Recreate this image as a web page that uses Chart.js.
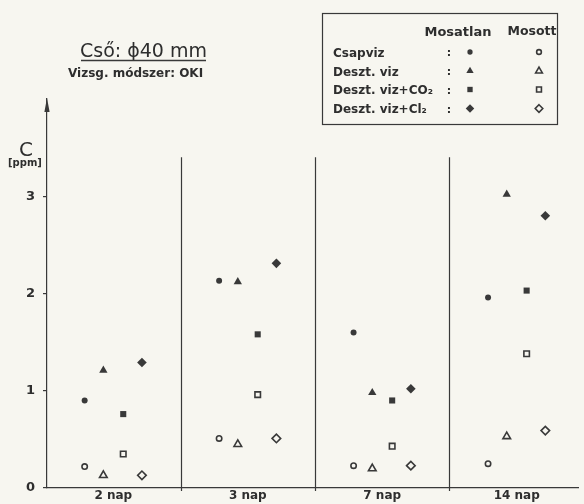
<!DOCTYPE html>
<html>
<head>
<meta charset="utf-8">
<script src="https://cdn.jsdelivr.net/npm/chart.js@4/dist/chart.umd.min.js"></script>
<style>
  html, body { margin: 0; padding: 0; background: #f7f6f0; }
  #wrap { width: 584px; height: 504px; }
</style>
</head>
<body>
<div id="wrap"><canvas id="c" width="584" height="504"></canvas></div>
<script>
// Sampling periods (x categories)
const periods = ['2 nap', '3 nap', '7 nap', '14 nap'];
const yTicks = [0, 1, 2, 3];

// Concentration C [ppm], unwashed samples ("Mosatlan")
const csapvizMosatlan   = [0.90, 2.13, 1.60, 1.96];
const desztMosatlan     = [1.21, 2.12, 0.98, 3.02];
const desztCO2Mosatlan  = [0.76, 1.58, 0.90, 2.03];
const desztCl2Mosatlan  = [1.29, 2.31, 1.02, 2.80];

// Concentration C [ppm], washed samples ("Mosott")
const csapvizMosott     = [0.22, 0.51, 0.23, 0.25];
const desztMosott       = [0.13, 0.45, 0.20, 0.53];
const desztCO2Mosott    = [0.35, 0.96, 0.43, 1.38];
const desztCl2Mosott    = [0.13, 0.51, 0.23, 0.59];

const legendRows = ['Csapviz', 'Deszt. viz', 'Deszt. viz+CO\u2082', 'Deszt. viz+Cl\u2082'];

const INK = '#393939';
const TEXT = '#2e2e2e';
const FONT = '"DejaVu Sans", "Liberation Sans", sans-serif';

// each medium gets its own slot inside a period column
const slot = [-0.213, -0.074, 0.074, 0.213];
const styles = ['circle', 'triangle', 'rect', 'rectRot'];
const filledR = [3.0, 4.8, 4.3, 4.8];
const openR = [2.7, 4.4, 3.9, 4.3];
const OPEN_W = 1.6;

function pts(values, k) {
  return values.map((v, i) => ({ x: i + slot[k], y: v }));
}

const unwashed = [csapvizMosatlan, desztMosatlan, desztCO2Mosatlan, desztCl2Mosatlan];
const washed = [csapvizMosott, desztMosott, desztCO2Mosott, desztCl2Mosott];

const datasets = [];
unwashed.forEach((vals, k) => datasets.push({
  label: legendRows[k] + ' (Mosatlan)',
  data: pts(vals, k),
  pointStyle: styles[k],
  pointRadius: filledR[k],
  pointHoverRadius: filledR[k],
  backgroundColor: INK,
  borderColor: INK,
  borderWidth: 0,
  showLine: false,
  clip: false
}));
washed.forEach((vals, k) => datasets.push({
  label: legendRows[k] + ' (Mosott)',
  data: pts(vals, k),
  pointStyle: styles[k],
  pointRadius: openR[k],
  pointHoverRadius: openR[k],
  backgroundColor: 'rgba(0,0,0,0)',
  borderColor: INK,
  borderWidth: OPEN_W,
  showLine: false,
  clip: false
}));

function marker(ctx, style, r, x, y, filled) {
  ctx.save();
  ctx.beginPath();
  if (style === 'circle') {
    ctx.arc(x, y, r, 0, Math.PI * 2);
  } else if (style === 'triangle') {
    ctx.moveTo(x, y - r);
    ctx.lineTo(x + r * 0.866, y + r * 0.5);
    ctx.lineTo(x - r * 0.866, y + r * 0.5);
    ctx.closePath();
  } else if (style === 'rect') {
    const s = r * Math.SQRT1_2;
    ctx.rect(x - s, y - s, 2 * s, 2 * s);
  } else {
    ctx.moveTo(x, y - r); ctx.lineTo(x + r, y); ctx.lineTo(x, y + r); ctx.lineTo(x - r, y);
    ctx.closePath();
  }
  if (filled) { ctx.fillStyle = INK; ctx.fill(); }
  else { ctx.strokeStyle = INK; ctx.lineWidth = OPEN_W; ctx.stroke(); }
  ctx.restore();
}

function label(ctx, s, x, y, font, align) {
  ctx.font = font;
  ctx.fillStyle = TEXT;
  ctx.textAlign = align || 'left';
  ctx.textBaseline = 'alphabetic';
  ctx.fillText(s, x, y);
}

// separators, axis arrow, headings and the legend table
const decor = {
  id: 'decor',
  beforeDraw(chart) {
    const ctx = chart.ctx;
    ctx.save();
    ctx.fillStyle = '#f7f6f0';
    ctx.fillRect(0, 0, chart.width, chart.height);
    ctx.restore();
  },
  afterDraw(chart) {
    const ctx = chart.ctx;
    const xs = chart.scales.x, ys = chart.scales.y;
    const area = chart.chartArea;
    ctx.save();
    ctx.strokeStyle = INK;
    ctx.lineWidth = 1.2;

    // column separators between periods
    const top = ys.getPixelForValue(3.4);
    for (let i = 0; i < periods.length - 1; i++) {
      const px = Math.round(xs.getPixelForValue(i + 0.5)) + 0.5;
      ctx.beginPath();
      ctx.moveTo(px, top);
      ctx.lineTo(px, area.bottom + 3);
      ctx.stroke();
    }

    // arrow head on the value axis
    const ax = area.left;
    ctx.fillStyle = INK;
    ctx.beginPath();
    ctx.moveTo(ax, area.top - 1);
    ctx.lineTo(ax + 2.6, area.top + 13);
    ctx.lineTo(ax - 2.6, area.top + 13);
    ctx.closePath();
    ctx.fill();

    // axis name
    label(ctx, 'C', 19, 156, '20px ' + FONT);
    label(ctx, '[ppm]', 8, 166, 'bold 10px ' + FONT);

    // headings
    label(ctx, 'Cső: \u03D540 mm', 80, 57, '19px ' + FONT);
    ctx.beginPath();
    ctx.moveTo(81, 60.5);
    ctx.lineTo(206, 60.5);
    ctx.lineWidth = 1.4;
    ctx.stroke();
    label(ctx, 'Vizsg. módszer: OKI', 68, 77, 'bold 12px ' + FONT);

    // legend table
    ctx.lineWidth = 1.2;
    ctx.strokeRect(322.5, 13.5, 235, 111);
    label(ctx, 'Mosatlan', 458, 36, 'bold 13px ' + FONT, 'center');
    label(ctx, 'Mosott', 532, 35, 'bold 12.5px ' + FONT, 'center');
    const rowY = [52, 71, 89.5, 108.5];
    legendRows.forEach((name, k) => {
      label(ctx, name, 333, rowY[k] + 4.5, 'bold 12px ' + FONT);
      label(ctx, ':', 449, rowY[k] + 4, 'bold 11px ' + FONT, 'center');
      marker(ctx, styles[k], filledR[k] * 0.88, 470, rowY[k], true);
      marker(ctx, styles[k], openR[k] * 0.88, 539, rowY[k], false);
    });
    ctx.restore();
  }
};

new Chart(document.getElementById('c'), {
  type: 'scatter',
  data: { datasets },
  options: {
    responsive: false,
    devicePixelRatio: 1,
    animation: false,
    events: [],
    layout: { padding: { top: 99, left: 0, right: 0, bottom: 0 } },
    plugins: { legend: { display: false }, tooltip: { enabled: false } },
    scales: {
      x: {
        type: 'linear',
        min: -0.493,
        max: 3.456,
        afterFit(scale) { scale.height = 16; },
        afterBuildTicks(scale) { scale.ticks = periods.map((p, i) => ({ value: i })); },
        ticks: {
          padding: 1,
          color: TEXT,
          font: { family: FONT, size: 12, weight: 'bold' },
          maxRotation: 0,
          autoSkip: false,
          callback: (v) => periods[v] ?? ''
        },
        grid: { display: true, drawOnChartArea: false, drawTicks: false },
        border: { display: true, color: INK, width: 1.2 }
      },
      y: {
        type: 'linear',
        min: 0,
        max: 4,
        afterFit(scale) { scale.width = 47; },
        afterBuildTicks(scale) { scale.ticks = yTicks.map(v => ({ value: v })); },
        ticks: {
          padding: 8,
          color: TEXT,
          font: { family: FONT, size: 13, weight: 'bold' },
          callback: (v) => String(v)
        },
        grid: { display: true, drawOnChartArea: false, drawTicks: true, tickLength: 4, color: INK, lineWidth: 1.2 },
        border: { display: true, color: INK, width: 1.2 }
      }
    }
  },
  plugins: [decor]
});
</script>
</body>
</html>
